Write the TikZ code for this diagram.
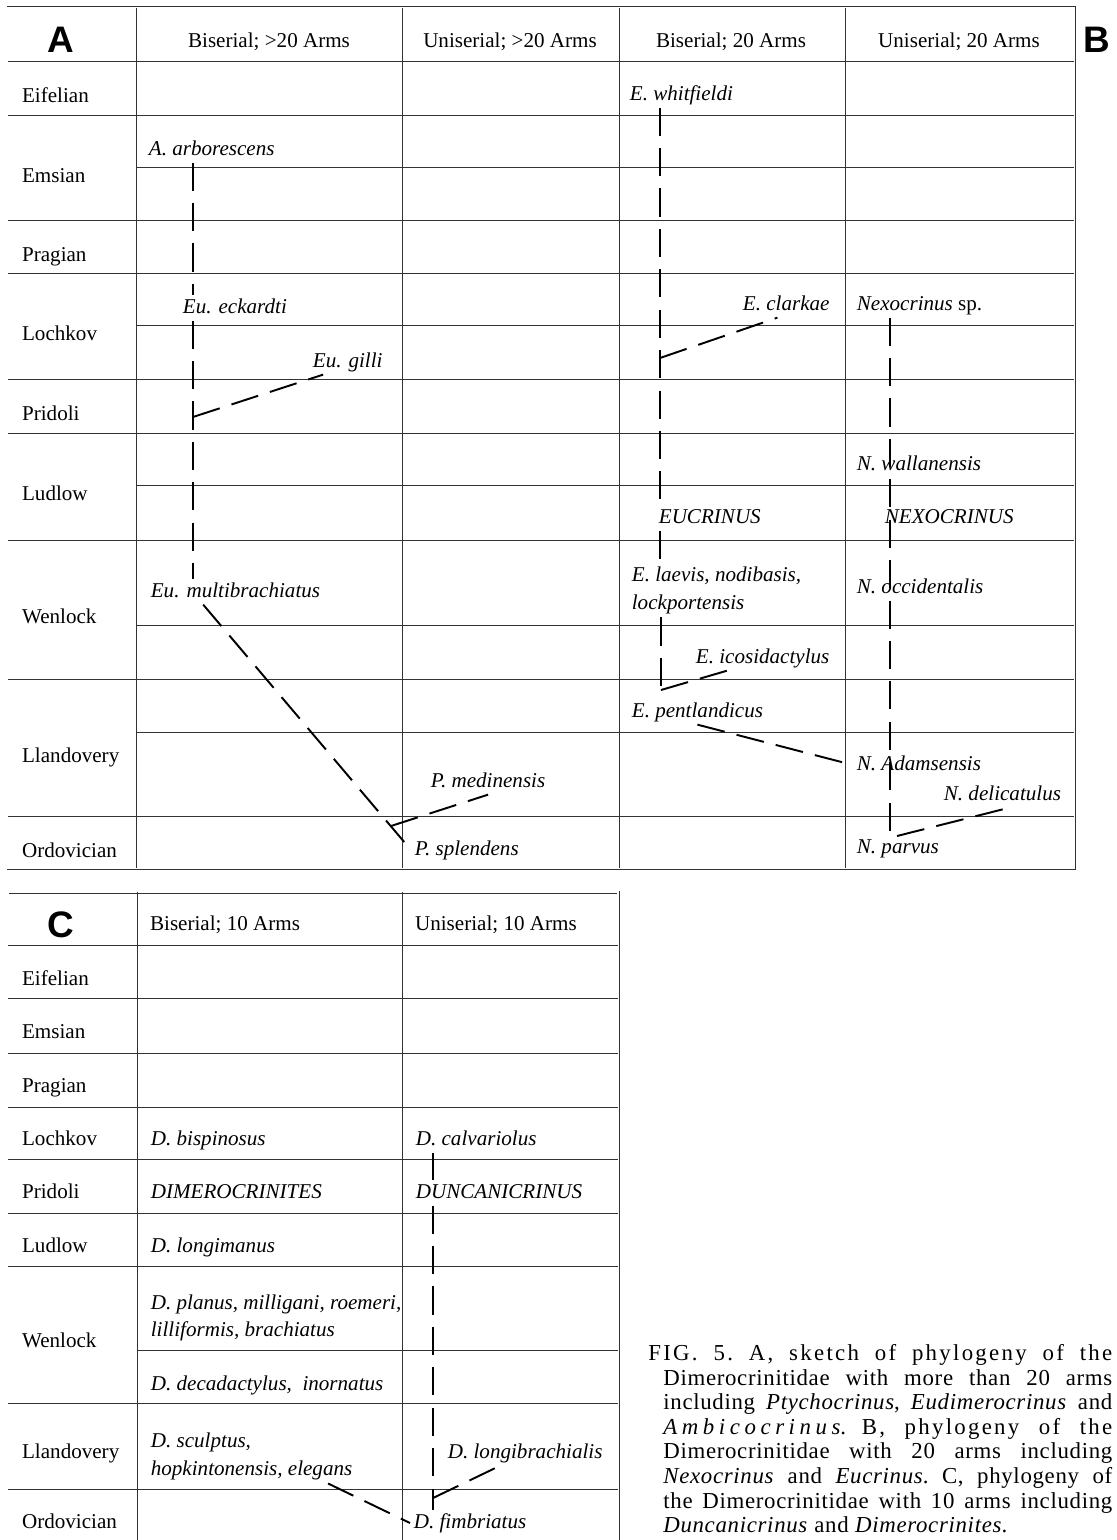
\documentclass[tikz,border=0pt]{standalone}
\usepackage{fontspec}
\setmainfont{Liberation Serif}
\newfontfamily\panelfont{Liberation Sans}
\newfontfamily\capfont[LetterSpace=3.0]{Liberation Serif}

\begin{document}
\begin{tikzpicture}[x=0.02cm, y=-0.02cm,
    rule/.style={black!80, line width=0.5pt},
    frame/.style={black!80, double, line width=0.4pt, double distance=0.9pt},
    lineage/.style={line width=1.1pt, dash pattern=on 16pt off 7pt},
    period/.style={anchor=west, inner sep=1pt, text height=8pt, text depth=2pt, font=\fontsize{12}{14}\selectfont},
    head/.style={inner sep=1pt, font=\fontsize{12}{14}\selectfont},
    taxon/.style={anchor=west, inner sep=2pt, text height=8pt, text depth=2pt, font=\fontsize{12}{14}\selectfont\itshape},
    taxa/.style={anchor=west, inner sep=2pt, align=left, font=\fontsize{12}{16}\selectfont\itshape},
    panel/.style={inner sep=0pt, font=\panelfont\bfseries\fontsize{21}{21}\selectfont}]
    \useasboundingbox (0,0) rectangle (1116,1540);

    % Table A and B
    \draw[frame] (8,8) rectangle (1074,868);
    \draw[frame] (618,8) -- (618,868);
    \foreach \x in {136,402,845}
        \draw[rule] (\x,8) -- (\x,868);
    \foreach \y in {61,115,220,273,379,433,540,679,816}
        \draw[rule] (8,\y) -- (1074,\y);
    \foreach \y in {167,325,485,625,732}
        \draw[rule] (136,\y) -- (1074,\y);

    \node[panel] (panA) at (61,40) {A};
    \node[head] (hA1) at (269,42) {Biserial; >20 Arms};
    \node[head] (hA2) at (510,42) {Uniserial; >20 Arms};
    \node[head] (hB1) at (731,42) {Biserial; 20 Arms};
    \node[head] (hB2) at (959,42) {Uniserial; 20 Arms};
    \node[panel] (panB) at (1097,40) {B};

    \foreach \t/\y [count=\i] in {Eifelian/97, Emsian/177, Pragian/256,
        Lochkov/335, Pridoli/415, Ludlow/495, Wenlock/618, Llandovery/757,
        Ordovician/852}
        \node[period] (top\i) at (20,\y) {\t};

    % A: more than 20 arms
    \node[taxon] (arbo) at (145,150) {A. arborescens};
    \node[taxon] (eckar) at (179,308) {Eu. eckardti};
    \node[taxon] (gilli) at (309,362) {Eu. gilli};
    \node[taxon] (multi) at (147,592) {Eu. multibrachiatus};
    \node[taxon] (medin) at (427,782) {P. medinensis};
    \node[taxon] (splen) at (411,850) {P. splendens};
    \coordinate (forkG) at (193,417);
    \coordinate (forkM) at (391,826);

    \draw[lineage] (arbo.south -| forkG) -- (eckar.north -| forkG);
    \draw[lineage] (eckar.south -| forkG) -- (multi.north -| forkG);
    \draw[lineage] (forkG) -- ([xshift=8pt]gilli.south west);
    \draw[lineage] ([xshift=32pt]multi.south west) -- (splen.west);
    \draw[lineage] (forkM) -- (medin.south);

    % B: 20 arms
    \node[taxon] (whit) at (626,95) {E. whitfieldi};
    \node[taxon] (clark) at (739,305) {E. clarkae};
    \node[taxon] (nexsp) at (853,305) {Nexocrinus \textup{sp.}};
    \node[taxon] (walla) at (853,465) {N. wallanensis};
    \node[taxon] (eucr) at (655,518) {EUCRINUS};
    \node[taxon] (nexo) at (881,518) {NEXOCRINUS};
    \node[taxa] (laev) at (628,590) {E. laevis, nodibasis,\\lockportensis};
    \node[taxon] (occid) at (853,588) {N. occidentalis};
    \node[taxon] (icos) at (692,658) {E. icosidactylus};
    \node[taxon] (pent) at (628,712) {E. pentlandicus};
    \node[taxon] (adam) at (853,765) {N. Adamsensis};
    \node[taxon] (delic) at (940,795) {N. delicatulus};
    \node[taxon] (parv) at (853,848) {N. parvus};
    \coordinate (forkC) at (660,358);
    \coordinate (forkI) at (661,690);
    \coordinate (forkN) at (890,836);

    \draw[lineage] (whit.south -| forkC) -- (eucr.north -| forkC);
    \draw[lineage] (forkC) -- ([xshift=-5pt]clark.south);
    \draw[lineage] (eucr.south -| forkC) -- (laev.north -| forkC);
    \draw[lineage] (laev.south -| forkI) -- (forkI);
    \draw[lineage] (forkI) -- ([xshift=20pt]icos.south west);
    \draw[lineage] (pent.south) -- (adam.west);
    \draw[lineage] (nexsp.south -| forkN) -- (forkN);
    \draw[lineage] ([xshift=4pt]forkN) -- ([xshift=4pt]delic.south);

    % Table C
    \draw[frame] (8,1545) -- (8,892) -- (618,892) -- (618,1545);
    \foreach \x in {137,402}
        \draw[rule] (\x,892) -- (\x,1545);
    \foreach \y in {945,998,1053,1107,1159,1213,1266,1403,1489}
        \draw[rule] (8,\y) -- (618,\y);
    \draw[rule] (137,1350) -- (618,1350);

    \node[panel] (panC) at (61,925) {C};
    \node[head, anchor=west] (hC1) at (148,925) {Biserial; 10 Arms};
    \node[head, anchor=west] (hC2) at (413,925) {Uniserial; 10 Arms};

    \foreach \t/\y [count=\i] in {Eifelian/980, Emsian/1033, Pragian/1087,
        Lochkov/1140, Pridoli/1193, Ludlow/1247, Wenlock/1342,
        Llandovery/1453, Ordovician/1523}
        \node[period] (low\i) at (20,\y) {\t};

    % C: 10 arms
    \node[taxon] (bisp) at (147,1140) {D. bispinosus};
    \node[taxon] (calv) at (412,1140) {D. calvariolus};
    \node[taxon] (dimer) at (147,1193) {DIMEROCRINITES};
    \node[taxon] (dunc) at (412,1193) {DUNCANICRINUS};
    \node[taxon] (longim) at (147,1247) {D. longimanus};
    \node[taxa, font=\fontsize{12}{15.5}\selectfont\itshape] (plan) at (147,1318)
        {D. planus, milligani, roemeri,\\lilliformis, brachiatus};
    \node[taxon] (decad) at (147,1385) {D. decadactylus,\ \ inornatus};
    \node[taxa] (scul) at (147,1456) {D. sculptus,\\hopkintonensis, elegans};
    \node[taxon] (longib) at (444,1453) {D. longibrachialis};
    \node[taxon] (fimb) at (410,1523) {D. fimbriatus};
    \coordinate (forkD) at (433,1498);

    \draw[lineage] (calv.south -| forkD) -- (dunc.north -| forkD);
    \draw[lineage] (dunc.south -| forkD) -- (fimb.north -| forkD);
    \draw[lineage] (forkD) -- ([xshift=32pt]longib.south west);
    \draw[lineage] ([xshift=-16pt]scul.south east) -- (fimb.west);

    % Caption
    \node[anchor=north west, inner sep=0pt, align=left,
          font=\capfont\fontsize{13}{14}\selectfont\frenchspacing] (capt) at (648,1344)
        {\makebox[9.28cm][s]{\addfontfeature{LetterSpace=10}FIG. 5. A, sketch of phylogeny of the}\\
         \hspace*{0.3cm}\makebox[8.98cm][s]{Dimerocrinitidae with more than 20 arms}\\
         \hspace*{0.3cm}\makebox[8.98cm][s]{including \textit{Ptychocrinus}, \textit{Eudimerocrinus} and}\\
         \hspace*{0.3cm}\makebox[8.98cm][s]{{\addfontfeature{LetterSpace=20}\textit{Ambicocrinus}.} {\addfontfeature{LetterSpace=10}B, phylogeny of the}}\\
         \hspace*{0.3cm}\makebox[8.98cm][s]{Dimerocrinitidae with 20 arms including}\\
         \hspace*{0.3cm}\makebox[8.98cm][s]{\textit{Nexocrinus} and \textit{Eucrinus}. C, phylogeny of}\\
         \hspace*{0.3cm}\makebox[8.98cm][s]{the Dimerocrinitidae with 10 arms including}\\
         \hspace*{0.3cm}\textit{Duncanicrinus} and \textit{Dimerocrinites}.};
\end{tikzpicture}
\end{document}
